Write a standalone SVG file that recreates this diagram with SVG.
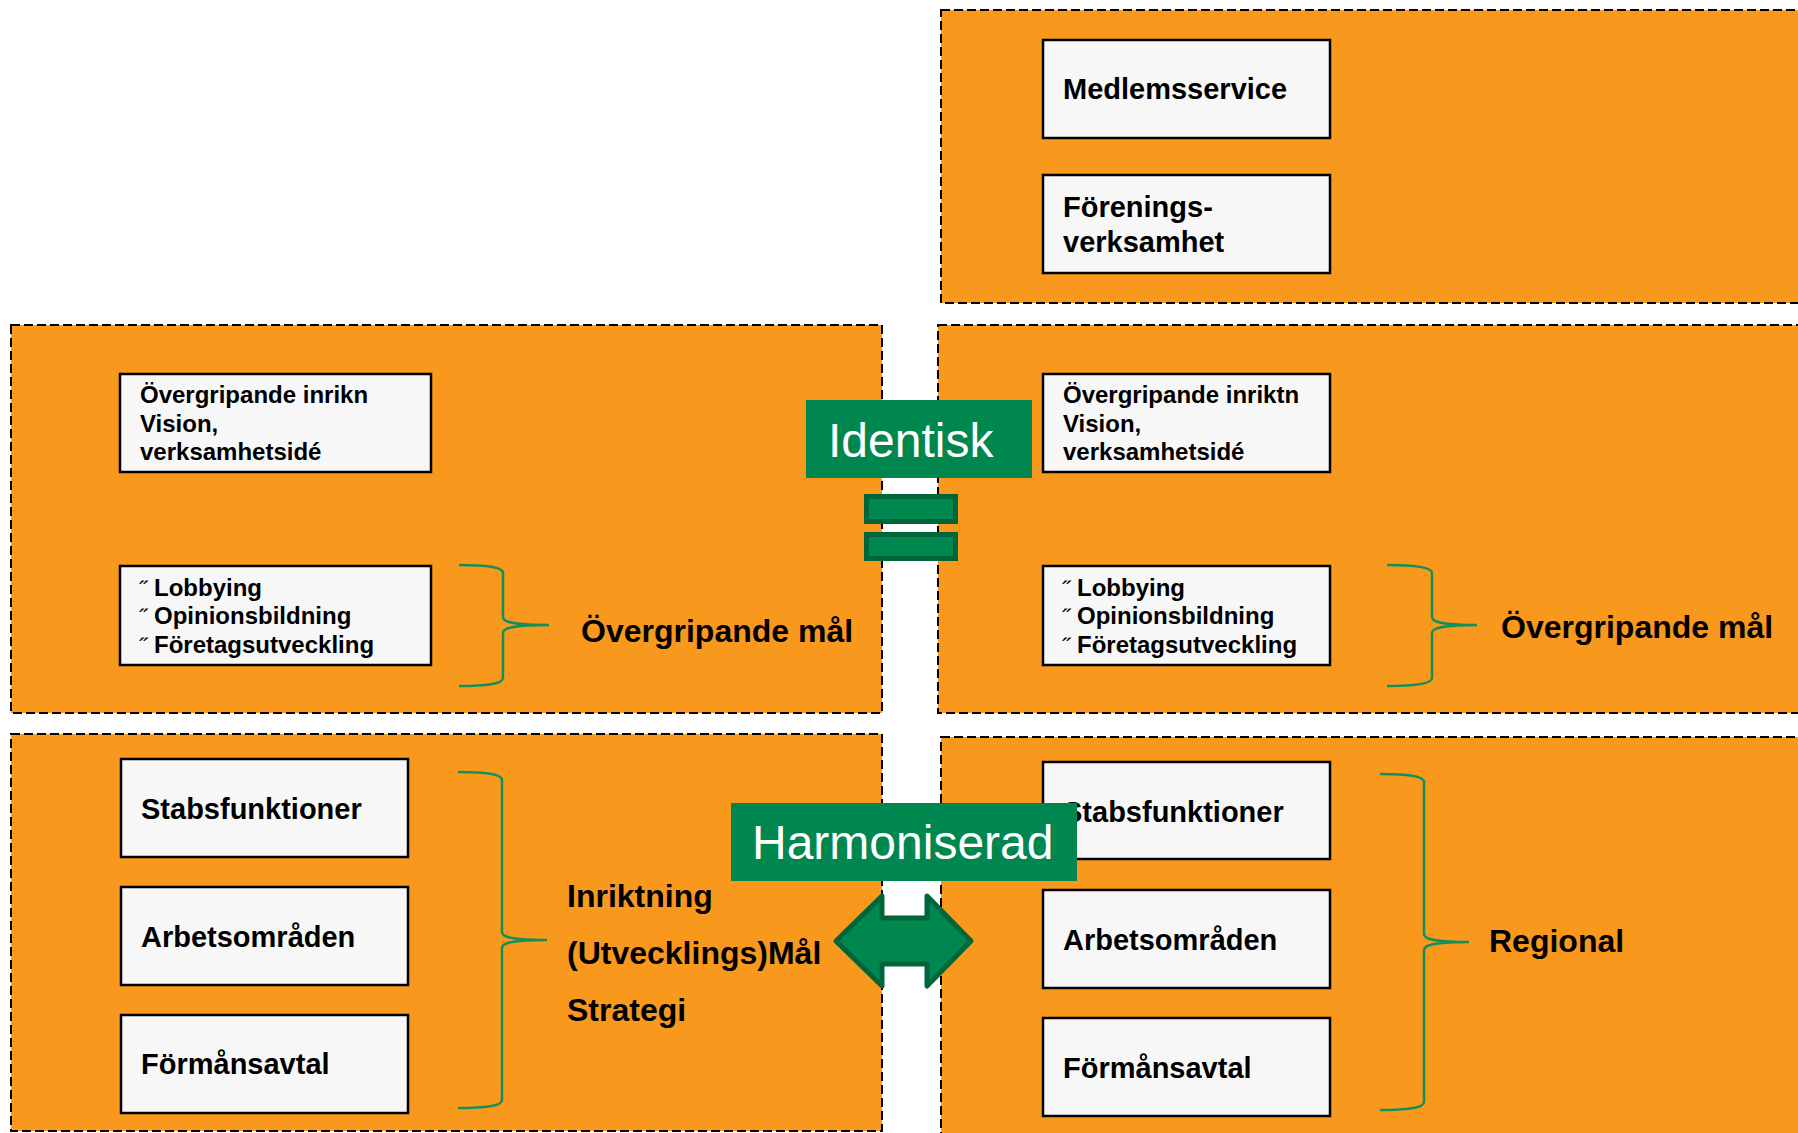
<svg xmlns="http://www.w3.org/2000/svg" width="1798" height="1133" viewBox="0 0 1798 1133">
<style>
.panel{fill:#F8981D;stroke:#000;stroke-width:2;stroke-dasharray:9 4}
.box{fill:#F7F7F7;stroke:#000;stroke-width:2.5}
.t{font-family:"Liberation Sans",Arial,sans-serif;font-weight:bold;fill:#000}
.b{font-family:"Liberation Sans",Arial,sans-serif;font-size:24px;fill:#000}
.s24{font-size:24px}
.s29{font-size:29px}
.s32{font-size:32px}
.w{font-family:"Liberation Sans",Arial,sans-serif;font-size:48px;fill:#fff}
.brace{fill:none;stroke:#12905C;stroke-width:2.5}
.green{fill:#00874F}
.gbar{fill:#00874F;stroke:#00663A;stroke-width:5}
</style>
<rect width="1798" height="1133" fill="#fff"/>
<g id="panel-top-right"><rect class="panel" x="941" y="10" width="900" height="293"/></g>
<g id="panel-mid-left"><rect class="panel" x="11" y="325" width="871" height="388"/></g>
<g id="panel-mid-right"><rect class="panel" x="938" y="325" width="900" height="388"/></g>
<g id="panel-bot-left"><rect class="panel" x="11" y="734" width="871" height="397"/></g>
<g id="panel-bot-right"><rect class="panel" x="941" y="737" width="900" height="420"/></g>

<g id="medlemsservice"><rect class="box" x="1043" y="40" width="287" height="98"/><text class="t s29" x="1063" y="99">Medlemsservice</text></g>
<g id="foreningsverksamhet"><rect class="box" x="1043" y="175" width="287" height="98"/><text class="t s29" x="1063" y="217">Förenings-</text><text class="t s29" x="1063" y="252">verksamhet</text></g>

<g id="inriktning-left"><rect class="box" x="120" y="374" width="311" height="98"/><text class="t s24" x="140" y="403">Övergripande inrikn</text><text class="t s24" x="140" y="432">Vision,</text><text class="t s24" x="140" y="460">verksamhetsidé</text></g>
<g id="mal-left"><rect class="box" x="120" y="566" width="311" height="99"/>
<text class="b" x="139" y="598">˝</text><text class="t s24" x="154" y="596">Lobbying</text>
<text class="b" x="139" y="626">˝</text><text class="t s24" x="154" y="624">Opinionsbildning</text>
<text class="b" x="139" y="655">˝</text><text class="t s24" x="154" y="653">Företagsutveckling</text></g>
<g id="label-mal-left"><text class="t s32" x="581" y="642">Övergripande mål</text></g>

<g id="inriktning-right"><rect class="box" x="1043" y="374" width="287" height="98"/><text class="t s24" x="1063" y="403">Övergripande inriktn</text><text class="t s24" x="1063" y="432">Vision,</text><text class="t s24" x="1063" y="460">verksamhetsidé</text></g>
<g id="mal-right"><rect class="box" x="1043" y="566" width="287" height="99"/>
<text class="b" x="1062" y="598">˝</text><text class="t s24" x="1077" y="596">Lobbying</text>
<text class="b" x="1062" y="626">˝</text><text class="t s24" x="1077" y="624">Opinionsbildning</text>
<text class="b" x="1062" y="655">˝</text><text class="t s24" x="1077" y="653">Företagsutveckling</text></g>
<g id="label-mal-right"><text class="t s32" x="1501" y="638">Övergripande mål</text></g>

<g id="stabs-left"><rect class="box" x="121" y="759" width="287" height="98"/><text class="t s29" x="141" y="819">Stabsfunktioner</text></g>
<g id="arbets-left"><rect class="box" x="121" y="887" width="287" height="98"/><text class="t s29" x="141" y="947">Arbetsområden</text></g>
<g id="forman-left"><rect class="box" x="121" y="1015" width="287" height="98"/><text class="t s29" x="141" y="1074">Förmånsavtal</text></g>
<g id="label-strategi"><text class="t s32" x="567" y="907">Inriktning</text><text class="t s32" x="567" y="964">(Utvecklings)Mål</text><text class="t s32" x="567" y="1021">Strategi</text></g>

<g id="stabs-right"><rect class="box" x="1043" y="762" width="287" height="97"/><text class="t s29" x="1063" y="822">Stabsfunktioner</text></g>
<g id="arbets-right"><rect class="box" x="1043" y="890" width="287" height="98"/><text class="t s29" x="1063" y="950">Arbetsområden</text></g>
<g id="forman-right"><rect class="box" x="1043" y="1018" width="287" height="98"/><text class="t s29" x="1063" y="1078">Förmånsavtal</text></g>
<g id="label-regional"><text class="t s32" x="1489" y="952">Regional</text></g>

<g id="connectors">
<path class="brace" d="M459,565 C486,565 503,567 503,573 L503,617 C503,622 512,625 549,625 C512,625 503,628 503,633 L503,678 C503,684 486,686 459,686"/>
<path class="brace" d="M1387,565 C1414,565 1432,567 1432,573 L1432,617 C1432,622 1441,625 1477,625 C1441,625 1432,628 1432,633 L1432,678 C1432,684 1414,686 1387,686"/>
<path class="brace" d="M458,772 C485,772 502,774 502,780 L502,932 C502,937 511,940 547,940 C511,940 502,943 502,948 L502,1100 C502,1106 485,1108 458,1108"/>
<path class="brace" d="M1380,774 C1407,774 1424,776 1424,782 L1424,934 C1424,939 1433,942 1469,942 C1433,942 1424,945 1424,950 L1424,1102 C1424,1108 1407,1110 1380,1110"/>
</g>

<g id="identisk"><rect class="green" x="806" y="400" width="226" height="78"/><text class="w" x="828" y="457">Identisk</text></g>
<g id="equals"><rect class="gbar" x="866.5" y="496.5" width="89" height="25"/><rect class="gbar" x="866.5" y="534.5" width="89" height="24"/></g>
<g id="harmoniserad"><rect class="green" x="731" y="803" width="346" height="78"/><text class="w" x="752" y="859">Harmoniserad</text></g>
<g id="double-arrow"><polygon class="gbar" stroke-linejoin="round" points="836,941 882,896 882,918 927,918 927,896 971,941 927,986 927,964 882,964 882,986"/></g>
</svg>
